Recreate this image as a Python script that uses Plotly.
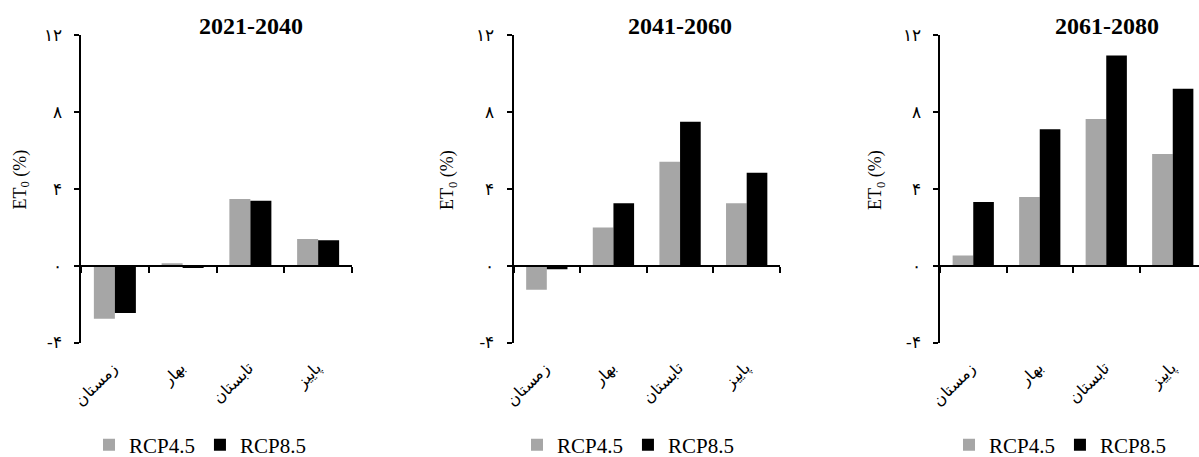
import plotly.graph_objects as go

W, H = 1199, 457

seasons = ["زمستان", "بهار", "تابستان", "پاییز"]
periods = ["2021-2040", "2041-2060", "2061-2080"]
series_names = ["RCP4.5", "RCP8.5"]
rcp45 = [
    [-2.77, 0.12, 3.47, 1.39],
    [-1.26, 1.99, 5.40, 3.24],
    [0.53, 3.57, 7.63, 5.81],
]
rcp85 = [
    [-2.46, -0.12, 3.38, 1.32],
    [-0.19, 3.24, 7.49, 4.83],
    [3.31, 7.09, 10.93, 9.20],
]
y_tickvals = [-4, 0, 4, 8, 12]
y_ticktext = ["-۴", "۰", "۴", "۸", "۱۲"]
y_title = "ET<sub>0</sub> (%)"

colors = ["#a6a6a6", "#000000"]
serif = "Liberation Serif, Times New Roman, serif"

# layout in pixels
x_left = [81, 513.5, 940]
x_right = [352, 780, 1206]
y_top, y_bot = 35, 342.5
title_cx = [250.5, 679.5, 1107]
ytitle_cx = [20.5, 448, 876]
ytitle_cy = 180
legend_left = [89, 517, 949]

def px(x):
    return x / W

def py(y):
    return 1 - y / H

fig = go.Figure()
ymin, ymax = y_tickvals[0], y_tickvals[-1]
ydom = [py(y_bot), py(y_top)]
zero_pos = ydom[0] + (0 - ymin) / (ymax - ymin) * (ydom[1] - ydom[0])

for i, period in enumerate(periods):
    sfx = "" if i == 0 else str(i + 1)
    legend_name = "legend" + sfx
    for s, (name, vals) in enumerate(zip(series_names, [rcp45[i], rcp85[i]])):
        fig.add_trace(go.Bar(
            x=seasons, y=vals, name=name,
            marker=dict(color=colors[s], line=dict(width=0)),
            xaxis="x" + sfx, yaxis="y" + sfx,
            legend=legend_name, showlegend=True,
        ))
    xl, xr = x_left[i], x_right[i]
    cat_w = (xr - xl) / len(seasons)
    xr_vis = min(xr, W)
    xrange = [-0.5, -0.5 + (xr_vis - xl) / cat_w]
    fig.update_layout(**{
        "xaxis" + sfx: dict(
            domain=[px(xl), px(xr_vis)], range=xrange, type="category",
            anchor="free", position=zero_pos,
            showline=True, linecolor="black", linewidth=2,
            ticks="outside", tickson="boundaries", ticklen=6, tickwidth=2,
            tickcolor="black", tickangle=-45,
            ticklabelstandoff=86, ticklabelshift=-2,
            tickfont=dict(family=serif, size=16, color="black"),
            showgrid=False, zeroline=False, fixedrange=True,
            automargin=False,
        ),
        "yaxis" + sfx: dict(
            domain=ydom, range=[ymin, ymax], anchor="x" + sfx,
            tickvals=y_tickvals, ticktext=y_ticktext,
            showline=True, linecolor="black", linewidth=2,
            ticks="outside", ticklen=5, tickwidth=2, tickcolor="black",
            ticklabelstandoff=9,
            tickfont=dict(family=serif, size=17, color="black"),
            showgrid=False, zeroline=False, fixedrange=True,
            automargin=False,
        ),
        legend_name: dict(
            orientation="h", x=px(legend_left[i]), xanchor="left",
            y=py(445), yanchor="middle",
            font=dict(family=serif, size=21, color="black"),
            bgcolor="rgba(0,0,0,0)", borderwidth=0,
            itemclick=False, itemdoubleclick=False,
        ),
    })
    fig.add_annotation(
        text="<b>" + period + "</b>", x=px(title_cx[i]), y=py(26),
        xref="paper", yref="paper", xanchor="center", yanchor="middle",
        showarrow=False, font=dict(family=serif, size=24, color="black"),
    )
    fig.add_annotation(
        text=y_title, x=px(ytitle_cx[i]), y=py(ytitle_cy),
        xref="paper", yref="paper", xanchor="center", yanchor="middle",
        textangle=-90, showarrow=False,
        font=dict(family=serif, size=18, color="black"),
    )

fig.update_layout(
    width=W, height=H,
    margin=dict(l=0, r=0, t=0, b=0, pad=0, autoexpand=False),
    paper_bgcolor="white", plot_bgcolor="white",
    barmode="group", bargap=0.38, bargroupgap=0,
    font=dict(family=serif, color="black"),
)

fig.write_html(
    "out.html",
    config={"displayModeBar": False},
    post_script="document.body.style.margin='0';document.body.style.overflow='hidden';",
)
